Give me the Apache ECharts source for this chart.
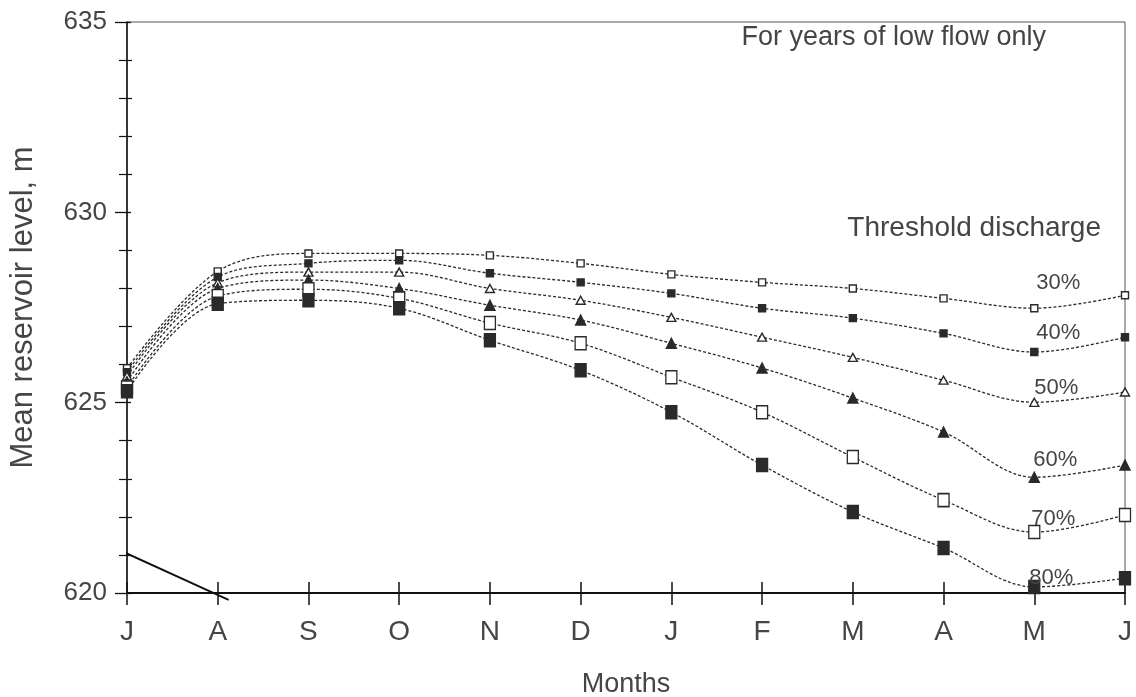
<!DOCTYPE html>
<html>
<head>
<meta charset="utf-8">
<title>Mean reservoir level – threshold discharge</title>
<script src="https://cdn.jsdelivr.net/npm/echarts@6/dist/echarts.min.js"></script>
<style>
  html, body { margin: 0; padding: 0; background: #fff; }
  #chart { width: 1136px; height: 697px; }
</style>
</head>
<body>
<div id="chart"></div>
<script>
// Hydrological year, June to June
const months = ['J', 'A', 'S', 'O', 'N', 'D', 'J', 'F', 'M', 'A', 'M', 'J'];

// Mean reservoir level (m) per threshold discharge
const level30 = [625.9, 628.45, 628.92, 628.92, 628.87, 628.66, 628.37, 628.16, 628.0, 627.74, 627.48, 627.82];
const level40 = [625.8, 628.3, 628.66, 628.74, 628.4, 628.16, 627.87, 627.48, 627.22, 626.82, 626.33, 626.72];
const level50 = [625.7, 628.15, 628.43, 628.43, 628.0, 627.69, 627.24, 626.72, 626.19, 625.59, 625.01, 625.28];
const level60 = [625.55, 628.0, 628.22, 628.0, 627.56, 627.17, 626.56, 625.91, 625.12, 624.23, 623.04, 623.36];
const level70 = [625.4, 627.8, 627.98, 627.74, 627.09, 626.56, 625.67, 624.75, 623.57, 622.44, 621.6, 622.05];
const level80 = [625.3, 627.6, 627.69, 627.48, 626.64, 625.85, 624.75, 623.36, 622.13, 621.18, 620.16, 620.39];

const thresholds = ['30%', '40%', '50%', '60%', '70%', '80%'];

// Short straight stroke near the origin: [month position, level]
const strokeX = [-0.08, 1.12];
const strokeY = [621.12, 619.82];

const yTicks = [620, 625, 630, 635];

const ink = '#2a2a2a';
const textInk = '#454545';
const font = 'Liberation Sans';

// Marker per threshold and where its tag sits relative to the May point
const markers = [
  { data: level30, symbol: 'rect', size: [7, 7], fill: '#fff', tag: [24, -25] },
  { data: level40, symbol: 'rect', size: [7, 7], fill: ink, tag: [24, -19] },
  { data: level50, symbol: 'triangle', size: [9, 8], fill: '#fff', tag: [22, -14] },
  { data: level60, symbol: 'triangle', size: [10, 10], fill: ink, tag: [21, -17] },
  { data: level70, symbol: 'rect', size: [11, 13], fill: '#fff', tag: [19, -13] },
  { data: level80, symbol: 'rect', size: [11, 13], fill: ink, tag: [17, -9] }
];

const tagIndex = 10;

const series = markers.map((m, k) => ({
  name: thresholds[k],
  type: 'line',
  xAxisIndex: 0,
  yAxisIndex: 0,
  smooth: 0.35,
  symbol: m.symbol,
  symbolSize: m.size,
  itemStyle: { color: m.fill, borderColor: ink, borderWidth: 1.4 },
  lineStyle: { color: ink, width: 1.3, type: [3, 2] },
  z: 3,
  data: m.data.map((v, i) => {
    const item = { value: [i, v] };
    if (i === tagIndex) {
      item.label = {
        show: true,
        position: 'inside',
        offset: m.tag,
        formatter: thresholds[k],
        color: textInk,
        fontFamily: font,
        fontSize: 22
      };
    }
    return item;
  })
}));

series.push({
  name: 'stroke',
  type: 'line',
  xAxisIndex: 0,
  yAxisIndex: 0,
  symbol: 'none',
  clip: false,
  lineStyle: { color: '#111', width: 2 },
  data: strokeX.map((x, i) => [x, strokeY[i]]),
  z: 4
});

const chart = echarts.init(document.getElementById('chart'), null, { renderer: 'canvas' });

const gridBox = { left: 127, right: 11, top: 22, bottom: 104 };

chart.setOption({
  animation: false,
  backgroundColor: '#fff',
  grid: Object.assign({
    show: true, borderColor: '#555', borderWidth: 1,
    containLabel: false, outerBoundsMode: 'none'
  }, gridBox),
  xAxis: [
    {
      type: 'value',
      min: 0,
      max: months.length - 1,
      interval: 1,
      position: 'bottom',
      name: 'Months',
      nameLocation: 'middle',
      nameGap: 78,
      nameTextStyle: { color: textInk, fontFamily: font, fontSize: 27 },
      axisLine: { show: true, onZero: false, lineStyle: { color: '#111', width: 2 } },
      axisTick: { show: true, inside: false, length: 12, lineStyle: { color: '#111', width: 1.5 } },
      axisLabel: {
        color: textInk, fontFamily: font, fontSize: 28, margin: 25,
        formatter: v => months[v] || ''
      },
      splitLine: { show: false }
    },
    {
      type: 'value',
      min: 0,
      max: months.length - 1,
      interval: 1,
      position: 'bottom',
      axisLine: { show: false, onZero: false },
      axisTick: { show: true, inside: true, length: 11, lineStyle: { color: '#111', width: 1.5 } },
      axisLabel: { show: false },
      splitLine: { show: false }
    }
  ],
  yAxis: [
    {
      type: 'value',
      min: yTicks[0],
      max: yTicks[yTicks.length - 1],
      interval: 5,
      position: 'left',
      name: 'Mean reservoir level, m',
      nameLocation: 'middle',
      nameGap: 88,
      nameRotate: 90,
      nameTextStyle: { color: textInk, fontFamily: font, fontSize: 31 },
      axisLine: { show: true, onZero: false, lineStyle: { color: '#111', width: 1.5 } },
      axisTick: { show: true, inside: false, length: 12, lineStyle: { color: '#111', width: 1.3 } },
      minorTick: { show: true, splitNumber: 5, length: 8, lineStyle: { color: '#111', width: 1.2 } },
      axisLabel: { color: textInk, fontFamily: font, fontSize: 26, margin: 20 },
      splitLine: { show: false },
      minorSplitLine: { show: false }
    },
    {
      type: 'value',
      min: yTicks[0],
      max: yTicks[yTicks.length - 1],
      interval: 5,
      position: 'left',
      axisLine: { show: false, onZero: false },
      axisTick: { show: true, inside: true, length: 4, lineStyle: { color: '#111', width: 1.3 } },
      minorTick: { show: true, splitNumber: 5, length: 5, lineStyle: { color: '#111', width: 1.2 } },
      axisLabel: { show: false },
      splitLine: { show: false },
      minorSplitLine: { show: false }
    }
  ],
  graphic: [
    {
      type: 'text',
      right: 90,
      top: 24,
      style: { text: 'For years of low flow only', fill: textInk, font: `27px "${font}"` }
    },
    {
      type: 'text',
      right: 35,
      top: 214,
      style: { text: 'Threshold discharge', fill: textInk, font: `28px "${font}"` }
    }
  ],
  series: series
});
</script>
</body>
</html>
